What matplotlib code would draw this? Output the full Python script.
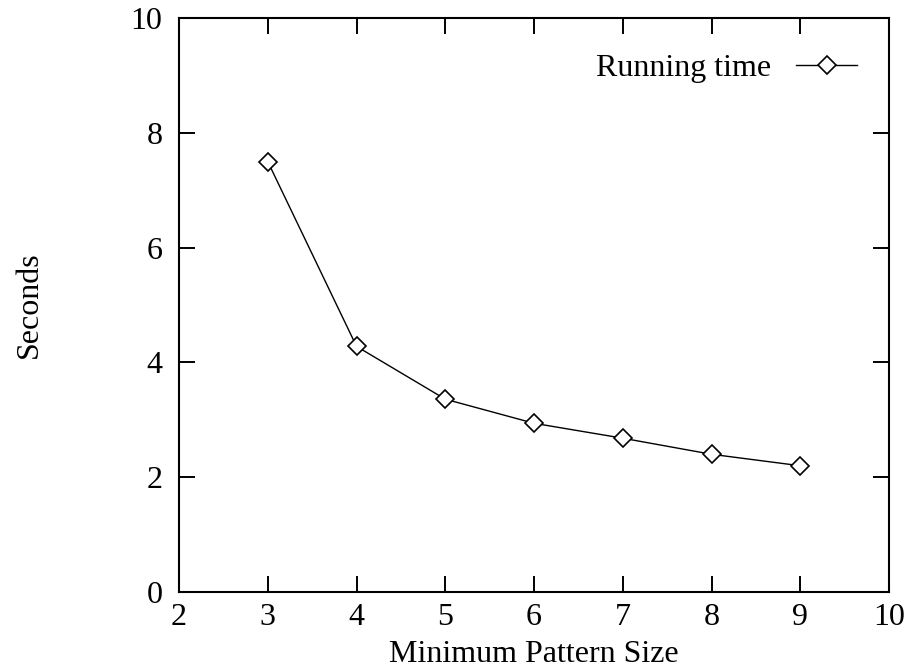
import matplotlib.pyplot as plt

plt.rcParams['font.family'] = ['Liberation Serif', 'DejaVu Serif']

pattern_size = [3, 4, 5, 6, 7, 8, 9]
seconds = [7.5, 4.28, 3.36, 2.94, 2.68, 2.40, 2.20]

fig = plt.figure(figsize=(9.11, 6.71), dpi=100)
ax = fig.add_axes([0.1965, 0.1177, 0.7795, 0.8553])

ax.plot(pattern_size, seconds, color='black', linewidth=1.0,
        marker='D', markersize=9, markerfacecolor='white',
        markeredgecolor='black', markeredgewidth=1.2, label='Running time')

ax.set_xlim(2, 10)
ax.set_ylim(0, 10)
ax.set_xticks(range(2, 11))
ax.set_yticks(range(0, 11, 2))
ax.tick_params(direction='in', length=11.5, width=1.4, labelsize=23,
               top=True, right=True, pad=8)
ax.tick_params(axis='y', pad=12)
for s in ax.spines.values():
    s.set_linewidth(1.5)

ax.set_xlabel('Minimum Pattern Size', fontsize=23, labelpad=6)
ax.set_ylabel('Seconds', fontsize=23, labelpad=62)

ax.legend(loc='upper right', bbox_to_anchor=(1.0, 0.993), frameon=False,
          fontsize=23, markerfirst=False, handlelength=1.9,
          handletextpad=0.8, borderaxespad=0.6)

fig.savefig('out.png', dpi=100)
